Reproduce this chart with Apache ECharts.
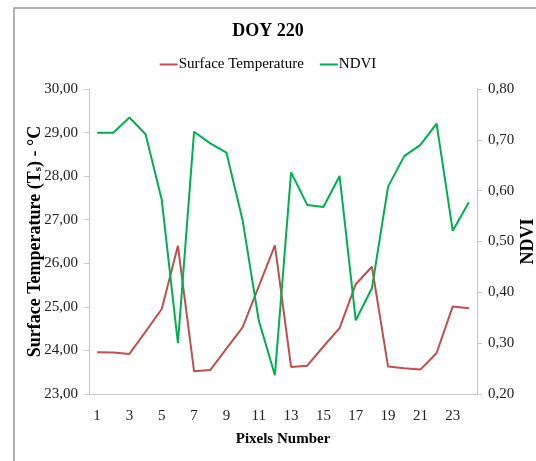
<!DOCTYPE html>
<html><head><meta charset="utf-8">
<script src="https://cdn.jsdelivr.net/npm/echarts@6/dist/echarts.min.js"></script>
<style>html,body{margin:0;padding:0;background:#fff}#c{width:536px;height:461px}</style>
</head><body><div id="c"></div>
<script>
const pixels = ['1','2','3','4','5','6','7','8','9','10','11','12','13','14','15','16','17','18','19','20','21','22','23','24'];
const surfaceTemp = [23.96,23.95,23.92,24.43,24.95,26.40,23.52,23.55,24.04,24.53,25.47,26.41,23.62,23.65,24.09,24.51,25.52,25.92,23.63,23.59,23.56,23.94,25.01,24.97];
const ndvi = [0.714,0.714,0.744,0.711,0.582,0.300,0.716,0.693,0.675,0.542,0.345,0.237,0.636,0.572,0.568,0.629,0.345,0.408,0.608,0.668,0.690,0.732,0.521,0.577];
const FONT = '"Liberation Serif", "Times New Roman", serif';
const fmt = v => v.toFixed(2).replace('.', ',');
const chart = echarts.init(document.getElementById('c'), null, {renderer:'canvas'});
chart.setOption({
  animation:false,
  graphic:[{type:'rect',shape:{x:14,y:8,width:600,height:600},style:{fill:'none',stroke:'#9a9a9a',lineWidth:1.5},silent:true}],
  title:{text:'DOY 220',left:'center',top:17,textStyle:{fontFamily:FONT,fontSize:18,fontWeight:'bold',color:'#000'}},
  legend:{top:52,left:'center',itemWidth:18,itemHeight:2,itemGap:16,icon:'rect',
    textStyle:{fontFamily:FONT,fontSize:15,color:'#000',padding:[0,0,0,-4]},
    data:['Surface Temperature','NDVI']},
  grid:{left:89,right:59,top:89,bottom:67,containLabel:false,outerBoundsMode:'none'},
  xAxis:{type:'category',data:pixels,boundaryGap:true,
    name:'Pixels Number',nameLocation:'middle',nameGap:38,nameMoveOverlap:false,
    nameTextStyle:{fontFamily:FONT,fontSize:15,fontWeight:'bold',color:'#000'},
    axisLine:{lineStyle:{color:'#c8c8c8'}},
    axisTick:{interval:0,length:5,lineStyle:{color:'#c8c8c8'}},
    axisLabel:{interval:1,fontFamily:FONT,fontSize:15,color:'#222',margin:15}},
  yAxis:[
    {type:'value',min:23,max:30,interval:1,
     name:'Surface Temperature (T{sub|s}) - °C',nameLocation:'middle',nameGap:45,nameRotate:90,nameMoveOverlap:false,
     nameTextStyle:{fontFamily:FONT,fontSize:18,fontWeight:'bold',color:'#000',
       rich:{sub:{fontFamily:FONT,fontSize:11,fontWeight:'bold',color:'#000',verticalAlign:'bottom',padding:[7,0,0,0]}}},
     splitLine:{show:false},
     axisLine:{show:true,lineStyle:{color:'#c8c8c8'}},
     axisTick:{show:true,length:5,lineStyle:{color:'#c8c8c8'}},
     axisLabel:{fontFamily:FONT,fontSize:15,color:'#222',margin:11,formatter:fmt}},
    {type:'value',min:0.2,max:0.8,interval:0.1,position:'right',
     name:'NDVI',nameLocation:'middle',nameGap:42,nameRotate:90,nameMoveOverlap:false,
     nameTextStyle:{fontFamily:FONT,fontSize:18,fontWeight:'bold',color:'#000'},
     splitLine:{show:false},
     axisLine:{show:true,lineStyle:{color:'#c8c8c8'}},
     axisTick:{show:true,length:5,lineStyle:{color:'#c8c8c8'}},
     axisLabel:{fontFamily:FONT,fontSize:15,color:'#222',margin:11,formatter:fmt}}
  ],
  series:[
    {name:'Surface Temperature',type:'line',yAxisIndex:0,data:surfaceTemp,symbol:'none',
     itemStyle:{color:'#c0504d'},lineStyle:{color:'#c0504d',width:2}},
    {name:'NDVI',type:'line',yAxisIndex:1,data:ndvi,symbol:'none',
     itemStyle:{color:'#00b050'},lineStyle:{color:'#00b050',width:2}}
  ]
});
</script></body></html>
